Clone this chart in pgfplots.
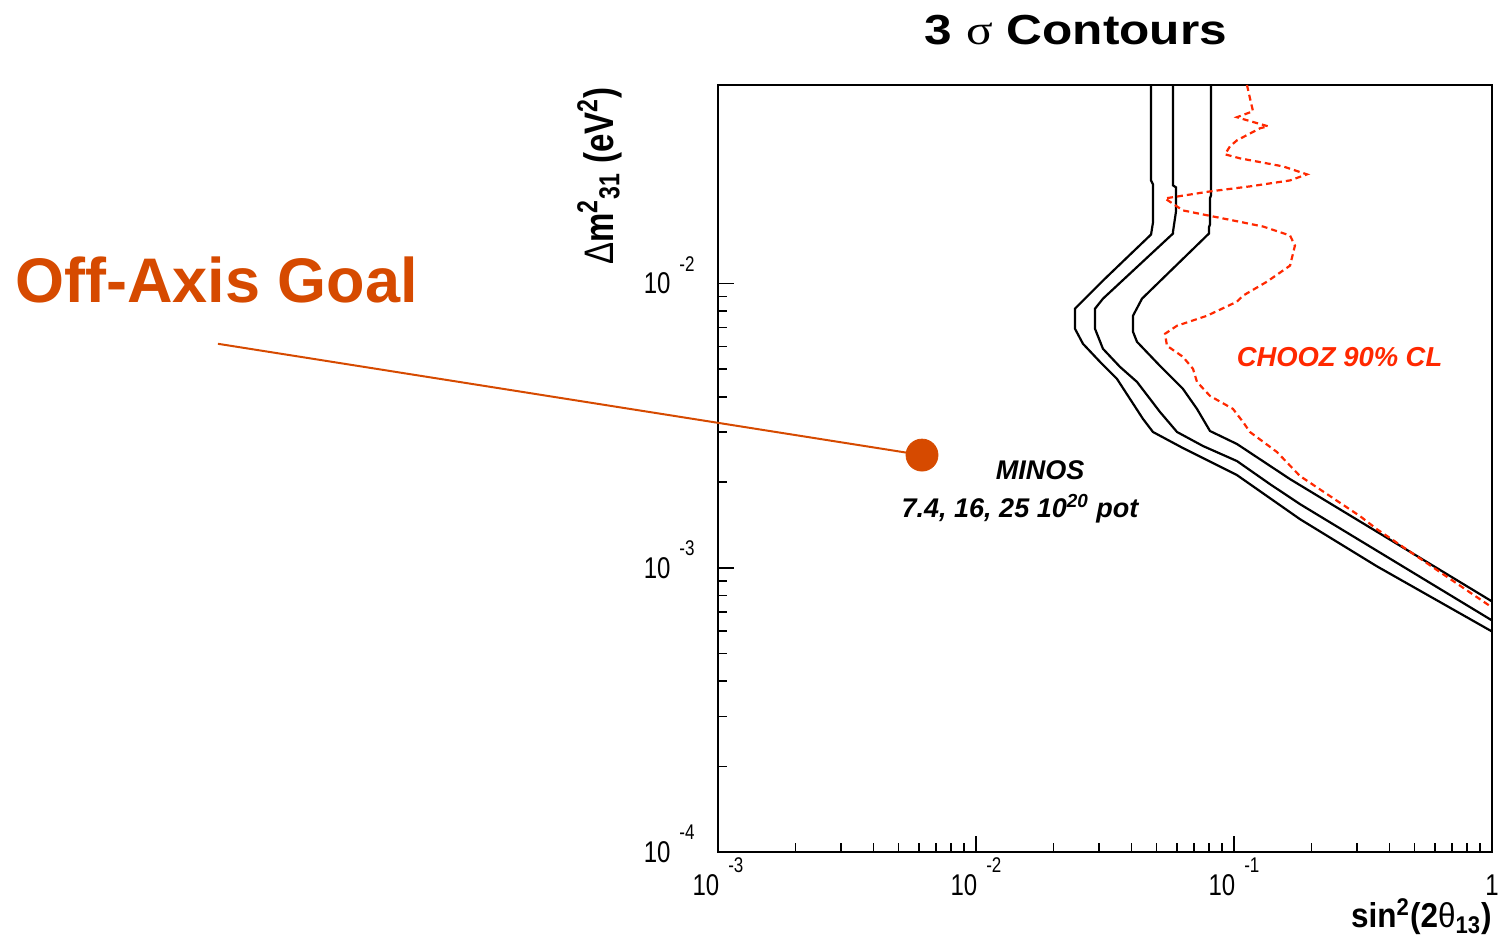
\documentclass[border=0pt]{standalone}
\usepackage{fontspec}
\setmainfont{Liberation Sans}
\newfontfamily\symfont{Liberation Serif}
\usepackage{graphicx}
\usepackage{pgfplots}
\pgfplotsset{compat=1.18}

\definecolor{goalorange}{RGB}{214,74,0}
\definecolor{choozred}{RGB}{255,40,0}

% ROOT-style tick labels: "10" with a raised exponent
\newcommand{\tlsize}{\fontsize{12}{12}\selectfont}
\newcommand{\tenpow}[1]{\scalebox{1}[1.25]{\tlsize 10\hspace{4.5pt}\smash{\raisebox{9pt}{\fontsize{8.5}{8.5}\selectfont #1}}}}
\newcommand{\one}{\scalebox{1}[1.25]{\tlsize 1}}

\begin{document}
\begin{tikzpicture}
\begin{axis}[
  at={(359pt,47.5pt)}, anchor=south west,
  scale only axis, width=387pt, height=383.5pt,
  xmode=log, ymode=log,
  xmin=1e-3, xmax=1, ymin=1e-4, ymax=0.05,
  axis line style={line width=1pt},
  tick align=inside, tick pos=left,
  xtick={0.001,0.01,0.1,1},
  xticklabels={\tenpow{-3},\tenpow{-2},\tenpow{-1},\one},
  ytick={0.0001,0.001,0.01},
  yticklabels={\tenpow{-4},\tenpow{-3},\tenpow{-2}},
  xticklabel style={anchor=north, inner sep=0pt, yshift=-11pt},
  yticklabel style={anchor=east, inner sep=0pt, xshift=-11.5pt},
  major tick length=8pt, minor tick length=4.5pt,
  every tick/.style={black, line width=0.8pt},
  clip=false,
]
% MINOS 3 sigma contours for 7.4, 16 and 25 x 10^20 pot
\addplot[black, line width=1.1pt] coordinates {
 (0.04770,0.05) (0.04770,0.02308) (0.04853,0.02235) (0.04853,0.01641)
 (0.04770,0.01489) (0.03883,0.01245) (0.03162,0.01041) (0.02645,0.008854)
 (0.02419,0.008161) (0.02419,0.006940) (0.02598,0.006143) (0.03024,0.005308)
 (0.03520,0.004622) (0.03953,0.003931) (0.04440,0.003341) (0.04853,0.003006)
 (0.06342,0.002639) (0.1027,0.002120) (0.1803,0.001483) (0.3583,0.001012)
 (1,0.000597)};
\addplot[black, line width=1.1pt] coordinates {
 (0.05804,0.05) (0.05804,0.02217) (0.05960,0.02181) (0.05960,0.01795)
 (0.05804,0.01526) (0.05804,0.01501) (0.03106,0.008854) (0.02892,0.008161)
 (0.02892,0.006940) (0.03106,0.005898) (0.03614,0.005096) (0.04207,0.004511)
 (0.04725,0.003931) (0.05164,0.003537) (0.06015,0.003006) (0.07584,0.002683)
 (0.1027,0.002375) (0.1379,0.001970) (0.1803,0.001675) (1,0.000653)};
\addplot[black, line width=1.1pt] coordinates {
 (0.08145,0.05) (0.08145,0.02043) (0.08072,0.02000) (0.08072,0.01615)
 (0.07999,0.01580) (0.07999,0.01501) (0.04400,0.008854) (0.04060,0.007710)
 (0.04060,0.006772) (0.04207,0.006243) (0.05164,0.005138) (0.06342,0.004262)
 (0.07188,0.003624) (0.08072,0.003030) (0.1027,0.002727) (0.1649,0.002052)
 (1,0.0007618)};
% CHOOZ 90% CL exclusion
\addplot[choozred, line width=1.1pt, dash pattern=on 3pt off 2pt] coordinates {
 (0.1123,0.05) (0.1153,0.04494) (0.1185,0.04043) (0.1027,0.03851)
 (0.1123,0.03758) (0.1355,0.03579) (0.1261,0.03521) (0.1027,0.03194)
 (0.09649,0.03042) (0.09228,0.02851) (0.1055,0.02760) (0.1548,0.02586)
 (0.1918,0.02424) (0.1649,0.02308) (0.1153,0.02199) (0.08072,0.02111)
 (0.05402,0.01995) (0.06342,0.01810) (0.09066,0.01696) (0.1295,0.01589)
 (0.1649,0.01477) (0.1723,0.01361) (0.1649,0.01157) (0.1342,0.01016)
 (0.1084,0.009073) (0.1027,0.008641) (0.07858,0.007710) (0.06015,0.007111)
 (0.05402,0.006662) (0.05499,0.006043) (0.06342,0.005528) (0.06937,0.005013)
 (0.07188,0.004511) (0.08072,0.004026) (0.09910,0.003624) (0.1084,0.003260)
 (0.1153,0.003006) (0.1468,0.002555) (0.1803,0.002103) (0.3080,0.001520)
 (0.3583,0.001367) (1,0.0007258)};
% off-axis goal: pointer and marker
\addplot[goalorange, line width=1pt] coordinates {(1.153e-5,0.006143) (0.006177,0.002493)};
\addplot[only marks, mark=*, mark size=8pt, goalorange] coordinates {(0.006177,0.002493)};
\end{axis}

\node[anchor=base, inner sep=0pt, font=\bfseries\fontsize{21}{21}\selectfont]
  at (538pt,451pt) {\scalebox{1.18}[1]{3 {\mdseries\symfont σ} Contours}};
\node[rotate=90, anchor=base east, inner sep=0pt] at (306.5pt,430pt)
  {\scalebox{1}[1.25]{\fontsize{16.5}{16.5}\selectfont\bfseries {\mdseries Δ}m\textsuperscript{2}\textsubscript{31} (eV\textsuperscript{2})}};
\node[anchor=base east, inner sep=0pt] at (746pt,9.5pt)
  {\scalebox{1.05}[1.15]{\fontsize{15}{15}\selectfont\bfseries sin\textsuperscript{2}(2{\mdseries θ}\textsubscript{13})}};
\node[anchor=base, inner sep=0pt, font=\bfseries\itshape\fontsize{13.5}{13.5}\selectfont]
  at (520pt,233.5pt) {MINOS};
\node[anchor=base, inner sep=0pt, font=\bfseries\itshape\fontsize{13.5}{13.5}\selectfont]
  at (510pt,214.5pt) {7.4, 16, 25 10\textsuperscript{20} pot};
\node[anchor=base, inner sep=0pt, text=choozred, font=\bfseries\itshape\fontsize{13.7}{13.7}\selectfont]
  at (669.75pt,290pt) {CHOOZ 90\% CL};
\node[anchor=base west, inner sep=0pt, text=goalorange, font=\bfseries\fontsize{31.5}{31.5}\selectfont]
  at (7.5pt,322pt) {Off-Axis Goal};

\pgfresetboundingbox
\useasboundingbox (0,0) rectangle (752pt,473.5pt);
\end{tikzpicture}
\end{document}
